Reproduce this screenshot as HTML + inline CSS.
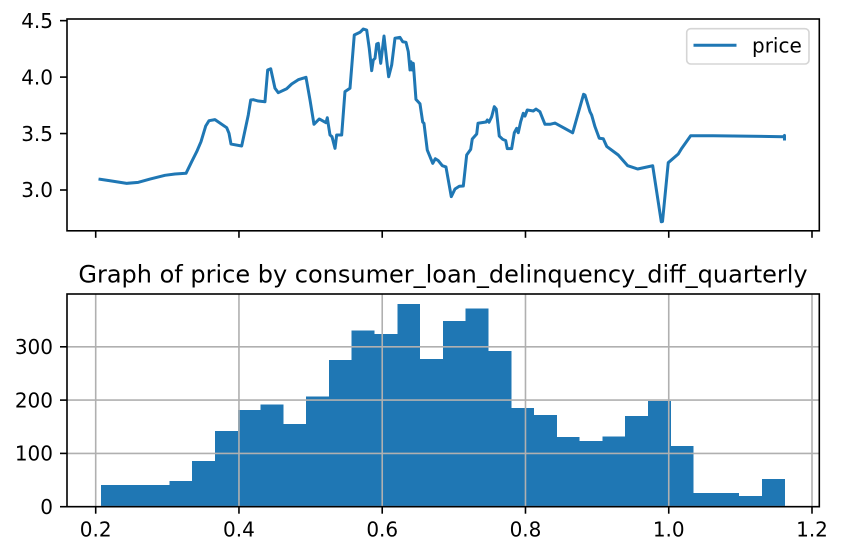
<!DOCTYPE html>
<html lang="en">
<head>
<meta charset="utf-8">
<title>Graph of price by consumer_loan_delinquency_diff_quarterly</title>
<style>
html,body{margin:0;padding:0;background:#fff;}
body{width:842px;height:554px;overflow:hidden;}
svg{display:block;}
text{font-family:"DejaVu Sans","Liberation Sans",sans-serif;fill:#000;}
</style>
</head>
<body>
<svg id="chart" xmlns="http://www.w3.org/2000/svg" width="842" height="554" viewBox="0 0 842 554">
  <rect x="0" y="0" width="842" height="554" fill="#fff"></rect>
  <g id="lineMarks"></g>
  <g id="histMarks"></g>
  <g id="axes"></g>
  <rect x="67" y="19" width="752.3" height="211.8" fill="none" stroke="#000" stroke-width="1.6"></rect>
  <rect x="67" y="294" width="752.3" height="212.7" fill="none" stroke="#000" stroke-width="1.6"></rect>
  <text x="443" y="282.7" font-size="24" text-anchor="middle">Graph of price by consumer_loan_delinquency_diff_quarterly</text>
  <g>
    <rect x="686.7" y="28.7" width="122.3" height="35.3" rx="4" ry="4" fill="#fff" fill-opacity="0.8" stroke="#d5d5d5" stroke-width="1.6"></rect>
    <line x1="695" y1="45.3" x2="735" y2="45.3" stroke="#1f77b4" stroke-width="3" stroke-linecap="square"></line>
    <text x="752" y="52.6" font-size="20">price</text>
  </g>
</svg>
<script>
const priceX = [0.2060,0.2200,0.2433,0.2595,0.2758,0.2967,0.3107,0.3261,0.3340,0.3410,0.3470,0.3536,0.3582,0.3665,0.3829,0.3861,0.3889,0.4038,0.4130,0.4164,0.4200,0.4270,0.4363,0.4401,0.4443,0.4503,0.4549,0.4666,0.4736,0.4828,0.4936,0.4992,0.5047,0.5121,0.5215,0.5233,0.5271,0.5299,0.5341,0.5364,0.5434,0.5480,0.5550,0.5610,0.5690,0.5736,0.5783,0.5819,0.5853,0.5875,0.5899,0.5923,0.5945,0.5979,0.6025,0.6062,0.6090,0.6132,0.6178,0.6248,0.6286,0.6332,0.6364,0.6388,0.6402,0.6416,0.6434,0.6471,0.6527,0.6565,0.6583,0.6629,0.6705,0.6741,0.6783,0.6839,0.6890,0.6964,0.7016,0.7076,0.7132,0.7179,0.7235,0.7257,0.7319,0.7337,0.7449,0.7467,0.7491,0.7528,0.7565,0.7592,0.7634,0.7682,0.7724,0.7746,0.7807,0.7844,0.7877,0.7899,0.7933,0.7969,0.7993,0.8025,0.8109,0.8147,0.8202,0.8272,0.8342,0.8412,0.8482,0.8659,0.8811,0.8831,0.8901,0.8924,0.8970,0.9030,0.9086,0.9134,0.9295,0.9427,0.9566,0.9776,0.9896,0.9913,0.9993,1.0133,1.0181,1.0306,1.0622,1.1602,1.1616,1.1616];
const priceY = [3.095,3.082,3.059,3.068,3.097,3.130,3.142,3.148,3.251,3.339,3.428,3.567,3.614,3.623,3.552,3.502,3.407,3.390,3.664,3.797,3.800,3.788,3.782,4.063,4.074,3.901,3.862,3.897,3.939,3.977,3.998,3.797,3.582,3.629,3.596,3.640,3.487,3.472,3.369,3.487,3.487,3.871,3.901,4.373,4.397,4.426,4.417,4.255,4.057,4.151,4.166,4.293,4.299,4.122,4.364,4.151,4.003,4.107,4.344,4.352,4.313,4.308,4.225,4.063,4.136,4.063,4.122,3.803,3.764,3.602,3.591,3.354,3.236,3.277,3.260,3.215,3.204,2.941,3.009,3.033,3.035,3.310,3.360,3.452,3.496,3.591,3.602,3.620,3.600,3.649,3.738,3.717,3.478,3.449,3.437,3.366,3.366,3.507,3.546,3.507,3.605,3.679,3.655,3.709,3.700,3.717,3.693,3.582,3.582,3.593,3.569,3.507,3.848,3.841,3.693,3.664,3.561,3.458,3.454,3.386,3.310,3.215,3.186,3.215,2.719,2.721,3.242,3.319,3.369,3.481,3.481,3.472,3.483,3.452];
const histCounts = [41,41,41,48,86,142,181,192,155,207,275,331,324,380,277,348,372,292,185,172,131,123,132,170,198,114,26,26,20,52];
const histMin = 0.2074;
const histMax = 1.162;
const xTicks = [0.2,0.4,0.6,0.8,1.0,1.2];
const xTickLabels = ["0.2","0.4","0.6","0.8","1.0","1.2"];
const priceTicks = [3.0,3.5,4.0,4.5];
const priceTickLabels = ["3.0","3.5","4.0","4.5"];
const countTicks = [0,100,200,300];
const countTickLabels = ["0","100","200","300"];

const NS = "http://www.w3.org/2000/svg";
function xScale(v){ return 95.7 + (v - 0.2) * 716.3; }
function priceScale(v){ return 190 - (v - 3) * 112.9; }
function countScale(v){ return 506.7 - v * 0.533; }

function make(tag, attrs, parent){
  const el = document.createElementNS(NS, tag);
  for (const k in attrs) el.setAttribute(k, attrs[k]);
  parent.appendChild(el);
  return el;
}

const lineLayer = document.getElementById("lineMarks");
const histLayer = document.getElementById("histMarks");
const axesLayer = document.getElementById("axes");

/* histogram bars */
const binWidth = (histMax - histMin) / histCounts.length;
histCounts.forEach(function(c, i){
  const x0 = xScale(histMin + i * binWidth);
  const x1 = xScale(histMin + (i + 1) * binWidth);
  const bar = make("rect", {x: x0, y: countScale(c), width: x1 - x0, height: countScale(0) - countScale(c), fill: "#1f77b4", "shape-rendering": "crispEdges"}, histLayer);
  
  
});

/* histogram grid (drawn over the bars) */
xTicks.forEach(function(t){
  const g = make("line", {x1: xScale(t), x2: xScale(t), y1: 294, y2: 506.7, stroke: "#b0b0b0", "stroke-width": 1.6}, histLayer);
  
  
});
countTicks.forEach(function(t){
  const g = make("line", {x1: 67, x2: 819.3, y1: countScale(t), y2: countScale(t), stroke: "#b0b0b0", "stroke-width": 1.6}, histLayer);
  
  
});

/* price line */
const d = priceX.map(function(x, i){
  return (i ? "L" : "M") + xScale(x).toFixed(2) + " " + priceScale(priceY[i]).toFixed(2);
}).join(" ");
const pricePath = make("path", {d: d, fill: "none", stroke: "#1f77b4", "stroke-width": 3, "stroke-linejoin": "round", "stroke-linecap": "square"}, lineLayer);



/* x ticks for both axes */
xTicks.forEach(function(t, i){
  const top = make("line", {x1: xScale(t), x2: xScale(t), y1: 230.8, y2: 237.8, stroke: "#000", "stroke-width": 1.6}, axesLayer);
  
  
  const bottom = make("line", {x1: xScale(t), x2: xScale(t), y1: 506.7, y2: 513.7, stroke: "#000", "stroke-width": 1.6}, axesLayer);
  
  
  const label = make("text", {x: xScale(t), y: 536.3, "font-size": 20, "text-anchor": "middle"}, axesLayer);
  label.textContent = xTickLabels[i];
  
  
});

/* price y ticks */
priceTicks.forEach(function(t, i){
  const tick = make("line", {x1: 60, x2: 67, y1: priceScale(t), y2: priceScale(t), stroke: "#000", "stroke-width": 1.6}, axesLayer);
  
  
  const label = make("text", {x: 53, y: priceScale(t) + 7.2, "font-size": 20, "text-anchor": "end"}, axesLayer);
  label.textContent = priceTickLabels[i];
  
  
});

/* count y ticks */
countTicks.forEach(function(t, i){
  const tick = make("line", {x1: 60, x2: 67, y1: countScale(t), y2: countScale(t), stroke: "#000", "stroke-width": 1.6}, axesLayer);
  
  
  const label = make("text", {x: 53, y: countScale(t) + 7.2, "font-size": 20, "text-anchor": "end"}, axesLayer);
  label.textContent = countTickLabels[i];
  
  
});
</script>
</body>
</html>
